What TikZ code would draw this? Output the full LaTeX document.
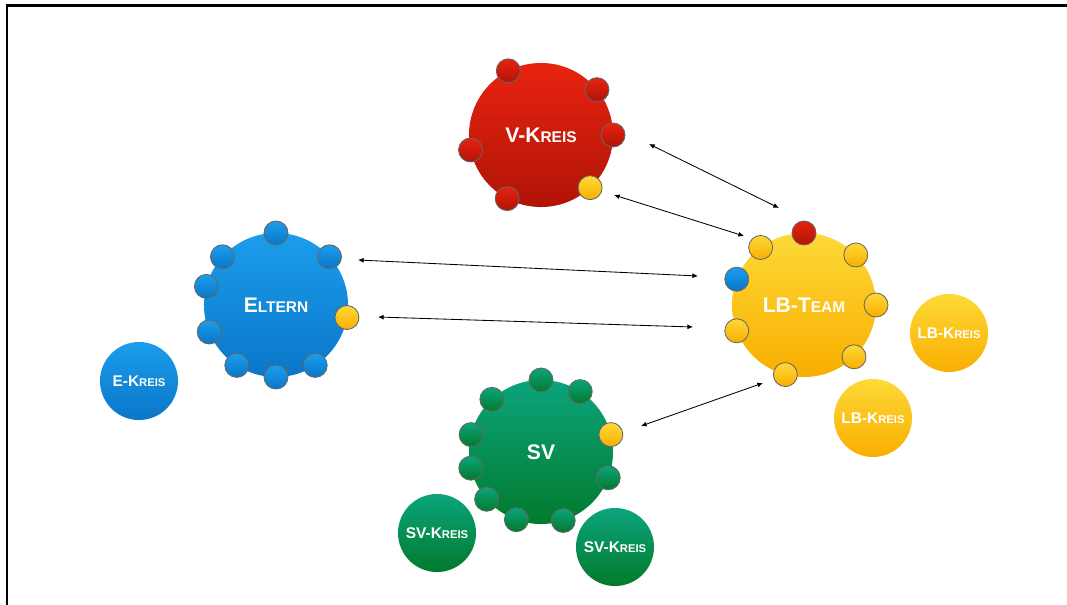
\documentclass[tikz,border=0pt]{standalone}
\usepackage{fontspec}
\setmainfont{Liberation Sans}
\usetikzlibrary{arrows.meta}
\definecolor{redtop}{HTML}{E8230F}
\definecolor{redbot}{HTML}{B01407}
\definecolor{bluetop}{HTML}{1C9DEC}
\definecolor{bluebot}{HTML}{0A76C8}
\definecolor{yeltop}{HTML}{FDD937}
\definecolor{yelbot}{HTML}{F9AE00}
\definecolor{greentop}{HTML}{0BA47C}
\definecolor{greenbot}{HTML}{027A2C}
\newcommand{\hauptgr}{\fontsize{15}{18}\selectfont}
\newcommand{\hauptkl}{\fontsize{11}{13}\selectfont}
\newcommand{\kreisgr}{\fontsize{11}{13}\selectfont}
\newcommand{\kreiskl}{\fontsize{8}{10}\selectfont}
\begin{document}
\begin{tikzpicture}[x=0.025cm,y=-0.025cm,
  big/.style={circle,minimum size=3.6cm,inner sep=0pt,outer sep=0pt,text=white,font=\bfseries},
  kreis/.style={circle,minimum size=1.95cm,inner sep=0pt,text=white,font=\bfseries},
  dot/.style={circle,minimum size=0.6cm,inner sep=0pt,draw=black!60,line width=0.6pt},
  rot/.style={top color=redtop,bottom color=redbot},
  blau/.style={top color=bluetop,bottom color=bluebot},
  gelb/.style={top color=yeltop,bottom color=yelbot},
  gruen/.style={top color=greentop,bottom color=greenbot},
  >={Latex[length=4pt,width=3.5pt]}]
  \useasboundingbox (0,0) rectangle (1067,605);
  % frame
  \draw[line width=1.8pt] (7,605) -- (7,5.5) -- (1067,5.5);

  % main circles
  \node[big,rot] (vk) at (541,135) {\hauptgr V-K\hauptkl REIS};
  \node[big,blau] (el) at (276,305) {\hauptgr E\hauptkl LTERN};
  \node[big,gelb] (lb) at (804,305) {\hauptgr LB-T\hauptkl EAM};
  \node[big,gruen] (sv) at (541,452) {\hauptgr SV};

  % smaller circles
  \node[kreis,blau] (ek) at (139,381) {\kreisgr E-K\kreiskl REIS};
  \node[kreis,gelb] (lk1) at (949,333) {\kreisgr LB-K\kreiskl REIS};
  \node[kreis,gelb] (lk2) at (873,418) {\kreisgr LB-K\kreiskl REIS};
  \node[kreis,gruen] (sk1) at (437,533) {\kreisgr SV-K\kreiskl REIS};
  \node[kreis,gruen] (sk2) at (615,547) {\kreisgr SV-K\kreiskl REIS};

  % members of V-Kreis
  \node[dot,rot] (v1) at (vk.117) {};
  \node[dot,rot] (v2) at (vk.39) {};
  \node[dot,rot] (v3) at (vk.0) {};
  \node[dot,rot] (v4) at (vk.192) {};
  \node[dot,rot] (v5) at (vk.242) {};
  \node[dot,gelb] (v6) at (vk.313) {};

  % members of Eltern
  \node[dot,blau] (e1) at (el.90) {};
  \node[dot,blau] (e2) at (el.42) {};
  \node[dot,blau] (e3) at (el.138) {};
  \node[dot,blau] (e4) at (el.165) {};
  \node[dot,blau] (e5) at (el.202) {};
  \node[dot,blau] (e6) at (el.237) {};
  \node[dot,blau] (e7) at (el.270) {};
  \node[dot,blau] (e8) at (el.303) {};
  \node[dot,gelb] (e9) at (el.350) {};

  % members of LB-Team
  \node[dot,rot] (l1) at (lb.90) {};
  \node[dot,gelb] (l2) at (lb.127) {};
  \node[dot,gelb] (l3) at (lb.44) {};
  \node[dot,blau] (l4) at (lb.159) {};
  \node[dot,gelb] (l5) at (lb.0) {};
  \node[dot,gelb] (l6) at (lb.201) {};
  \node[dot,gelb] (l7) at (lb.314) {};
  \node[dot,gelb] (l8) at (lb.255) {};

  % members of SV
  \node[dot,gruen] (s1) at (sv.90) {};
  \node[dot,gruen] (s2) at (sv.57) {};
  \node[dot,gruen] (s3) at (sv.133) {};
  \node[dot,gruen] (s4) at (sv.166) {};
  \node[dot,gruen] (s5) at (sv.193) {};
  \node[dot,gruen] (s6) at (sv.221) {};
  \node[dot,gruen] (s7) at (sv.250) {};
  \node[dot,gruen] (s8) at (sv.288) {};
  \node[dot,gruen] (s9) at (sv.339) {};
  \node[dot,gelb] (s10) at (sv.14) {};

  % arrows
  \coordinate (a1) at (649,144); \coordinate (b1) at (779,208);
  \coordinate (a2) at (614,195); \coordinate (b2) at (744,236);
  \coordinate (a3) at (358,260); \coordinate (b3) at (698,276);
  \coordinate (a4) at (378,317); \coordinate (b4) at (693,327);
  \coordinate (a5) at (641,426); \coordinate (b5) at (763,383);
  \draw[<->,line width=0.6pt] (a1) -- (b1);
  \draw[<->,line width=0.6pt] (a2) -- (b2);
  \draw[<->,line width=0.6pt] (a3) -- (b3);
  \draw[<->,line width=0.6pt] (a4) -- (b4);
  \draw[<->,line width=0.6pt] (a5) -- (b5);
\end{tikzpicture}
\end{document}
